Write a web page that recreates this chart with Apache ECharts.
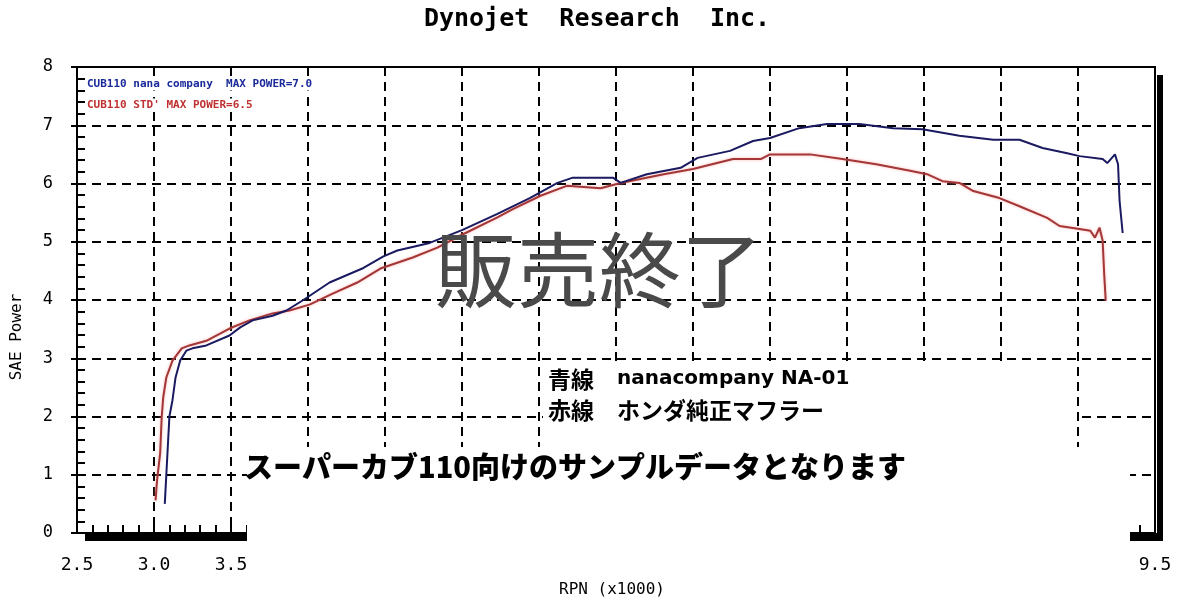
<!DOCTYPE html>
<html><head><meta charset="utf-8">
<script src="https://cdn.jsdelivr.net/npm/echarts@6/dist/echarts.min.js"></script>
<style>html,body{margin:0;padding:0;background:#fff}#c{width:1200px;height:607px}</style>
</head><body><div id="c"></div>
<script>
// ---- data (RPM x1000, SAE Power) ----
const rpmBlue = [3.07,3.08,3.10,3.12,3.14,3.17,3.21,3.25,3.34,3.49,3.56,3.64,3.77,3.86,3.97,4.14,4.36,4.49,4.58,4.79,5.00,5.23,5.44,5.62,5.72,5.98,6.03,6.20,6.42,6.53,6.74,6.89,7.00,7.19,7.37,7.58,7.80,7.99,8.23,8.45,8.62,8.77,8.93,9.01,9.16,9.19,9.24,9.26,9.27,9.29];
const powerBlue = [0.50,1.00,2.00,2.28,2.67,2.96,3.13,3.17,3.22,3.39,3.53,3.65,3.73,3.82,4.00,4.30,4.55,4.75,4.85,4.98,5.20,5.48,5.75,6.01,6.10,6.10,6.01,6.16,6.27,6.44,6.56,6.73,6.78,6.95,7.02,7.02,6.95,6.93,6.82,6.75,6.75,6.61,6.52,6.47,6.42,6.35,6.50,6.33,5.70,5.15];
const rpmRed = [3.01,3.02,3.04,3.05,3.06,3.08,3.12,3.18,3.23,3.34,3.49,3.62,3.77,3.88,4.01,4.16,4.32,4.47,4.68,4.84,5.00,5.23,5.33,5.51,5.68,5.90,6.03,6.31,6.50,6.76,6.94,7.00,7.26,7.47,7.69,7.91,8.02,8.12,8.23,8.32,8.49,8.62,8.80,8.88,9.01,9.08,9.11,9.14,9.16,9.17,9.18];
const powerRed = [0.56,0.91,1.37,1.99,2.33,2.67,2.96,3.17,3.22,3.30,3.51,3.65,3.77,3.82,3.92,4.11,4.30,4.54,4.73,4.90,5.12,5.42,5.56,5.79,5.96,5.92,6.01,6.16,6.25,6.42,6.42,6.50,6.50,6.42,6.33,6.22,6.16,6.04,6.01,5.87,5.75,5.61,5.41,5.27,5.22,5.19,5.07,5.24,5.02,4.45,3.99];
const shownXTicks = ['2.5','3.0','3.5','9.5'];
const seriesNames = ['CUB110 nana company  MAX POWER=7.0', "CUB110 STD' MAX POWER=6.5"];

const zip = (xs, ys) => xs.map((x, i) => [x, ys[i]]);
const MONO = '"DejaVu Sans Mono", monospace';
const JP = '"Noto Sans CJK JP", sans-serif';

const chart = echarts.init(document.getElementById('c'), null, {renderer: 'canvas'});
const option = {
  backgroundColor: '#ffffff',
  animation: false,
  grid: {left: 77, right: 45, top: 67, bottom: 74, show: true, borderColor: '#000', borderWidth: 2, backgroundColor: 'transparent', outerBoundsMode: 'none', containLabel: false},
  xAxis: {
    type: 'value', min: 2.5, max: 9.5, interval: 0.5,
    axisLine: {show: true, lineStyle: {color: '#000', width: 2}},
    axisTick: {show: true, inside: true, length: 8, lineStyle: {color: '#000', width: 2}},
    minorTick: {show: true, splitNumber: 5, length: 8, lineStyle: {color: '#000', width: 2}},
    axisLabel: {show: true, margin: 23, color: '#000', fontFamily: MONO, fontSize: 18,
      formatter: v => { const s = v.toFixed(1); return shownXTicks.includes(s) ? s : ''; }},
    splitLine: {show: true, lineStyle: {color: '#000', width: 2, type: [9, 6]}},
    minorSplitLine: {show: false}
  },
  yAxis: [{
    type: 'value', min: 0, max: 8, interval: 1,
    axisLine: {show: true, lineStyle: {color: '#000', width: 2}},
    axisTick: {show: true, inside: false, length: 6, lineStyle: {color: '#000', width: 2}},
    axisLabel: {show: true, margin: 24, color: '#000', fontFamily: MONO, fontSize: 17},
    splitLine: {show: true, lineStyle: {color: '#000', width: 2, type: [9, 6]}}
  }, {
    type: 'value', min: 0, max: 8, interval: 1, position: 'left',
    axisLine: {show: false},
    axisTick: {show: false, inside: true, length: 8},
    minorTick: {show: true, splitNumber: 5, length: 8, lineStyle: {color: '#000', width: 2}},
    axisLabel: {show: false},
    splitLine: {show: false}
  }],
  series: [{
    name: seriesNames[0], type: 'line', data: zip(rpmBlue, powerBlue), showSymbol: false, smooth: false,
    lineStyle: {color: '#1a1a60', width: 2}, z: 3
  }, {
    name: seriesNames[1], type: 'line', data: zip(rpmRed, powerRed), showSymbol: false, smooth: false,
    lineStyle: {color: '#a33636', width: 2, shadowColor: 'rgba(255,150,150,0.7)', shadowBlur: 3}, z: 2
  }],
  graphic: [
    // shadow of the frame
    {type: 'rect', z: 90, shape: {x: 1157, y: 75, width: 6, height: 466}, style: {fill: '#000'}},
    {type: 'rect', z: 90, shape: {x: 85, y: 533, width: 1078, height: 8}, style: {fill: '#000'}},
    // white covers
    {type: 'rect', z: 95, shape: {x: 247, y: 447, width: 883, height: 160}, style: {fill: '#fff'}},
    {type: 'rect', z: 95, shape: {x: 543, y: 361, width: 533, height: 87}, style: {fill: '#fff'}},
    // title
    {type: 'text', z: 100, x: 597, y: 19, style: {text: 'Dynojet  Research  Inc.', font: 'bold 25px ' + MONO, fill: '#000', align: 'center', verticalAlign: 'middle'}},
    // axis names
    {type: 'text', z: 100, x: 17, y: 337, rotation: Math.PI / 2, style: {text: 'SAE Power', font: '16px ' + MONO, fill: '#000', align: 'center', verticalAlign: 'middle'}},
    {type: 'text', z: 100, x: 612, y: 590, style: {text: 'RPN (x1000)', font: '16px ' + MONO, fill: '#000', align: 'center', verticalAlign: 'middle'}},
    // run labels
    {type: 'text', z: 100, x: 86, y: 84, style: {text: seriesNames[0], font: 'bold 11px ' + MONO, fill: '#1a2a9a', align: 'left', verticalAlign: 'middle', backgroundColor: '#fff', padding: [1, 1]}},
    {type: 'text', z: 100, x: 86, y: 105, style: {text: seriesNames[1], font: 'bold 11px ' + MONO, fill: '#c03030', align: 'left', verticalAlign: 'middle', backgroundColor: '#fff', padding: [1, 1]}},
    // overlays
    {type: 'text', z: 100, x: 599, y: 270, style: {text: '販売終了', font: '82px ' + JP, fill: '#4a4a4a', align: 'center', verticalAlign: 'middle'}},
    {type: 'text', z: 100, x: 548, y: 379, style: {text: '{j|青線　}{e|nanacompany NA-01}', align: 'left', verticalAlign: 'middle', fill: '#000',
      rich: {j: {font: 'bold 23px ' + JP, fill: '#000'}, e: {font: 'bold 20px "DejaVu Sans", sans-serif', fill: '#000'}}}},
    {type: 'text', z: 100, x: 548, y: 410, style: {text: '赤線　ホンダ純正マフラー', font: 'bold 23px ' + JP, fill: '#000', align: 'left', verticalAlign: 'middle'}},
    {type: 'text', z: 100, x: 575, y: 467, style: {text: 'スーパーカブ110向けのサンプルデータとなります', font: '900 29px ' + JP, fill: '#000', align: 'center', verticalAlign: 'middle'}}
  ]
};
chart.setOption(option);
</script>
</body></html>
